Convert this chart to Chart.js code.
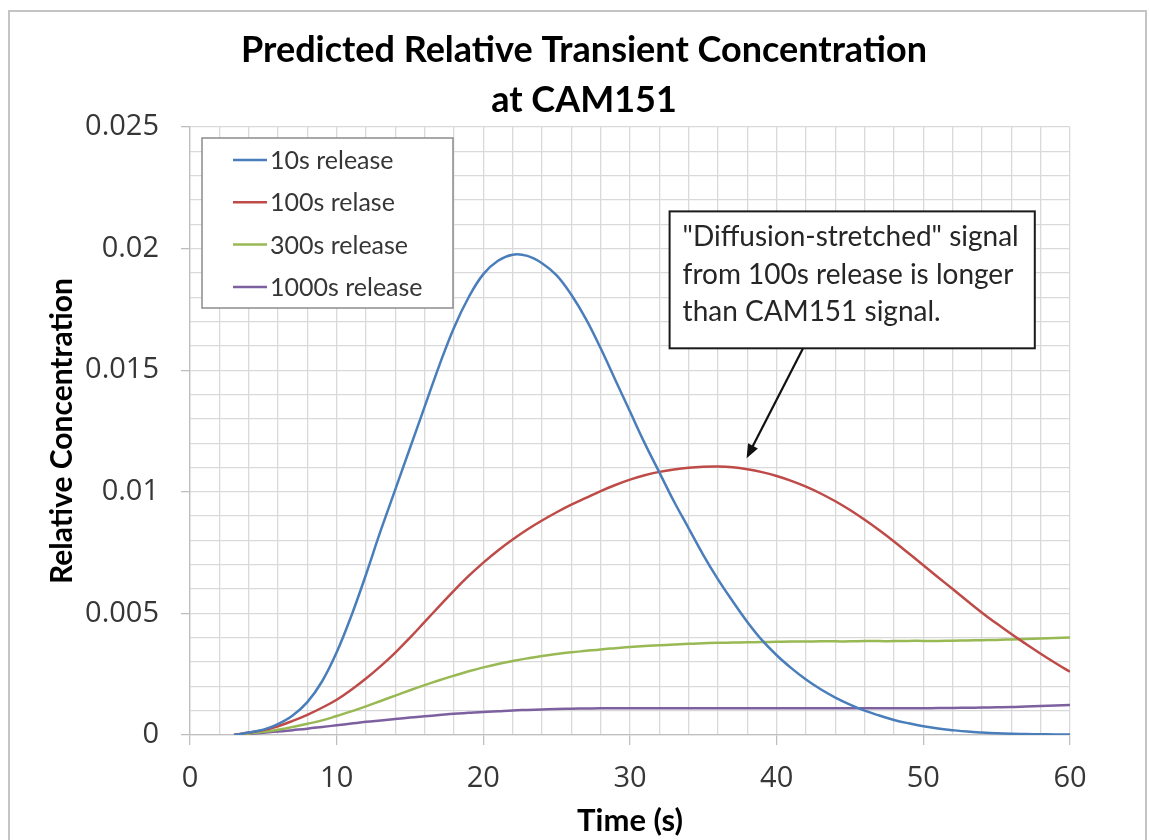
<!DOCTYPE html>
<html>
<head>
<meta charset="utf-8">
<script src="https://cdn.jsdelivr.net/npm/chart.js@4.4.1/dist/chart.umd.min.js"></script>
<style>
  html, body { margin: 0; padding: 0; background: #fff; }
  canvas { display: block; }
</style>
</head>
<body>
<canvas id="chart" width="1149" height="840"></canvas>
<script>
const titleLines = ["Predicted Relative Transient Concentration", "at CAM151"];
const seriesNames = ["10s release", "100s relase", "300s release", "1000s release"];
const seriesColors = ["#4a7ebb", "#be4b48", "#98b954", "#7d60a0"];

const times = [3, 4, 5, 6, 7, 8, 9, 10, 11, 12, 13, 14, 15, 16, 17, 18, 19, 20,
  21, 22, 23, 24, 25, 26, 27, 28, 29, 30, 31, 32, 33, 34, 35, 36, 37, 38, 39, 40,
  41, 42, 43, 44, 45, 46, 47, 48, 49, 50, 51, 52, 53, 54, 55, 56, 57, 58, 59, 60];

const release10 = [0, 0.0001, 0.00022, 0.00045, 0.0008, 0.00135, 0.0022, 0.0034, 0.0049, 0.0066,
  0.0084, 0.0101, 0.0118, 0.0135, 0.0152, 0.01675, 0.018, 0.01895, 0.0195, 0.01975,
  0.0197, 0.0194, 0.0189, 0.0181, 0.0171, 0.0159, 0.0146, 0.0133, 0.012, 0.0108,
  0.0096, 0.0085, 0.0074, 0.0064, 0.0055, 0.00465, 0.0039, 0.00328, 0.00275, 0.00228,
  0.00188, 0.00154, 0.00125, 0.001, 0.0008, 0.00062, 0.00048, 0.00036, 0.00027, 0.0002,
  0.00014, 0.0001, 0.00007, 0.00005, 0.00004, 0.00003, 0.00002, 0.00002];

const release100 = [0, 0.0001, 0.0002, 0.00036, 0.00058, 0.00083, 0.00112, 0.00145, 0.00186, 0.00232,
  0.00283, 0.00339, 0.004, 0.00465, 0.0053, 0.00594, 0.00654, 0.00709, 0.00759, 0.00804,
  0.00845, 0.00882, 0.00916, 0.00947, 0.00975, 0.01003, 0.01028, 0.0105, 0.01068, 0.01082,
  0.01092, 0.01099, 0.01103, 0.01104, 0.01101, 0.01093, 0.01081, 0.01065, 0.01045, 0.01021,
  0.00993, 0.00961, 0.00925, 0.00885, 0.00842, 0.00796, 0.00747, 0.00698, 0.00649, 0.006,
  0.00551, 0.00503, 0.00458, 0.00415, 0.00374, 0.00334, 0.00296, 0.0026];

const release300 = [0, 0.00006, 0.00013, 0.00022, 0.00033, 0.00046, 0.0006, 0.00078, 0.00097, 0.00118,
  0.0014, 0.00162, 0.00184, 0.00205, 0.00225, 0.00244, 0.00262, 0.00278, 0.00292, 0.00304,
  0.00315, 0.00325, 0.00333, 0.0034, 0.00346, 0.00352, 0.00357, 0.00362, 0.00366, 0.00369,
  0.00372, 0.00375, 0.00377, 0.00379, 0.0038, 0.00381, 0.00382, 0.00383, 0.00384, 0.00384,
  0.00385, 0.00385, 0.00385, 0.00386, 0.00386, 0.00386, 0.00387, 0.00387, 0.00387, 0.00388,
  0.00389, 0.0039, 0.00391, 0.00393, 0.00395, 0.00397, 0.00399, 0.00401];

const release1000 = [0, 0.00004, 0.00009, 0.00014, 0.0002, 0.00026, 0.00033, 0.0004, 0.00047, 0.00054,
  0.0006, 0.00066, 0.00072, 0.00077, 0.00082, 0.00087, 0.00091, 0.00095, 0.00098, 0.00101,
  0.00103, 0.00105, 0.00107, 0.00108, 0.00109, 0.0011, 0.0011, 0.0011, 0.0011, 0.0011,
  0.0011, 0.0011, 0.0011, 0.0011, 0.0011, 0.0011, 0.0011, 0.0011, 0.0011, 0.0011,
  0.0011, 0.0011, 0.0011, 0.0011, 0.0011, 0.0011, 0.0011, 0.0011, 0.00111, 0.00111,
  0.00112, 0.00113, 0.00114, 0.00115, 0.00117, 0.00119, 0.00121, 0.00123];

const xTickLabels = [0, 10, 20, 30, 40, 50, 60];
const yTickLabels = [0, 0.005, 0.01, 0.015, 0.02, 0.025];

const noteLines = ["\"Diffusion-stretched\" signal", "from 100s release is longer", "than CAM151 signal."];
// callout box corners and arrow, in data units
const noteBox = { x0: 32.7, y0: 0.02153, x1: 57.6, y1: 0.0159 };
const noteArrow = { x0: 41.8, y0: 0.0159, x1: 37.95, y1: 0.01138 };

const allSeries = [release10, release100, release300, release1000];

const datasets = allSeries.map((vals, i) => ({
  label: seriesNames[i],
  data: times.map((t, j) => ({ x: t, y: vals[j] })),
  borderColor: seriesColors[i],
  backgroundColor: seriesColors[i],
  borderWidth: 2.5,
  pointRadius: 0,
  tension: 0.4,
}));

const textColor = "#363636";
const gridColor = "#d9d9d9";

const frameAndNotes = {
  id: "frameAndNotes",
  beforeDraw(chart) {
    const ctx = chart.ctx;
    ctx.save();
    ctx.fillStyle = "#fff";
    ctx.fillRect(0, 0, chart.width, chart.height);
    ctx.strokeStyle = "#c4c4c4";
    ctx.lineWidth = 2;
    ctx.strokeRect(9, 11, 1137, 840);
    ctx.restore();
  },
  afterDraw(chart) {
    const ctx = chart.ctx;
    const area = chart.chartArea;
    const xs = chart.scales.x;
    const ys = chart.scales.y;
    ctx.save();

    // title
    ctx.fillStyle = "#000";
    ctx.textAlign = "center";
    ctx.textBaseline = "middle";
    ctx.font = "bold 36px Lato";
    ctx.fillText(titleLines[0], 584, 50);
    ctx.fillText(titleLines[1], 584, 100);

    // legend box
    const lx = area.left + 12, ly = area.top + 11;
    ctx.fillStyle = "#fff";
    ctx.fillRect(lx, ly, 251, 170);
    ctx.strokeStyle = "#8c8c8c";
    ctx.lineWidth = 1.5;
    ctx.strokeRect(lx, ly, 251, 170);
    ctx.font = "25px Lato";
    ctx.textAlign = "left";
    chart.data.datasets.forEach((ds, i) => {
      const y = ly + 22 + i * 42.3;
      ctx.strokeStyle = ds.borderColor;
      ctx.lineWidth = 2.5;
      ctx.beginPath();
      ctx.moveTo(lx + 31, y);
      ctx.lineTo(lx + 65, y);
      ctx.stroke();
      ctx.fillStyle = textColor;
      ctx.fillText(ds.label, lx + 68, y + 1);
    });

    // callout
    const bx0 = xs.getPixelForValue(noteBox.x0), by0 = ys.getPixelForValue(noteBox.y0);
    const bx1 = xs.getPixelForValue(noteBox.x1), by1 = ys.getPixelForValue(noteBox.y1);
    ctx.fillStyle = "#fff";
    ctx.fillRect(bx0, by0, bx1 - bx0, by1 - by0);
    ctx.strokeStyle = "#1a1a1a";
    ctx.lineWidth = 2;
    ctx.strokeRect(bx0, by0, bx1 - bx0, by1 - by0);
    ctx.fillStyle = "#262626";
    ctx.font = "28px Lato";
    noteLines.forEach((line, i) => {
      ctx.fillText(line, bx0 + 13, by0 + 26 + i * 37.5);
    });

    // arrow
    const ax0 = xs.getPixelForValue(noteArrow.x0), ay0 = ys.getPixelForValue(noteArrow.y0);
    const ax1 = xs.getPixelForValue(noteArrow.x1), ay1 = ys.getPixelForValue(noteArrow.y1);
    const ang = Math.atan2(ay1 - ay0, ax1 - ax0);
    const head = 15;
    ctx.strokeStyle = "#111";
    ctx.lineWidth = 2.2;
    ctx.beginPath();
    ctx.moveTo(ax0, ay0);
    ctx.lineTo(ax1 - Math.cos(ang) * head * 0.8, ay1 - Math.sin(ang) * head * 0.8);
    ctx.stroke();
    ctx.fillStyle = "#111";
    ctx.beginPath();
    ctx.moveTo(ax1, ay1);
    ctx.lineTo(ax1 - head * Math.cos(ang - 0.38), ay1 - head * Math.sin(ang - 0.38));
    ctx.lineTo(ax1 - head * Math.cos(ang + 0.38), ay1 - head * Math.sin(ang + 0.38));
    ctx.closePath();
    ctx.fill();

    ctx.restore();
  },
};

const config = {
  type: "line",
  data: { datasets: datasets },
  options: {
    responsive: false,
    animation: false,
    devicePixelRatio: 1,
    layout: { padding: { top: 127, right: 79, left: 0, bottom: 0 } },
    scales: {
      x: {
        type: "linear",
        min: 0,
        max: 60,
        afterFit: (scale) => { scale.height = 105; },
        afterBuildTicks: (scale) => {
          scale.ticks = [];
          for (let v = 0; v <= 60; v += 2) scale.ticks.push({ value: v });
        },
        ticks: {
          autoSkip: false,
          maxRotation: 0,
          padding: 16,
          color: textColor,
          font: { family: "Open Sans", size: 29 },
          callback: (value) => (xTickLabels.includes(value) ? String(value) : ""),
        },
        grid: {
          color: gridColor,
          lineWidth: 1.3,
          tickLength: 10,
          tickColor: (ctx) => (ctx.tick && ctx.tick.value % 10 === 0 ? "#bfbfbf" : "rgba(0,0,0,0)"),
        },
        border: { color: "#bfbfbf", width: 1.3 },
        title: {
          display: true,
          text: "Time (s)",
          color: "#000",
          font: { family: "Lato", weight: "bold", size: 31 },
          padding: { top: 0, bottom: 0 },
        },
      },
      y: {
        min: 0,
        max: 0.025,
        afterFit: (scale) => { scale.width = 190; },
        afterBuildTicks: (scale) => {
          scale.ticks = [];
          for (let k = 0; k <= 25; k++) scale.ticks.push({ value: k / 1000 });
        },
        ticks: {
          autoSkip: false,
          padding: 22,
          color: textColor,
          font: { family: "Open Sans", size: 29 },
          callback: (value) => {
            const hit = yTickLabels.find((t) => Math.abs(t - value) < 1e-9);
            return hit !== undefined ? String(hit) : "";
          },
        },
        grid: {
          color: gridColor,
          lineWidth: 1.3,
          tickLength: 9,
          tickColor: (ctx) => {
            if (!ctx.tick) return "rgba(0,0,0,0)";
            const k = Math.round(ctx.tick.value * 1000);
            return k % 5 === 0 ? "#bfbfbf" : "rgba(0,0,0,0)";
          },
        },
        border: { color: "#bfbfbf", width: 1.3 },
        title: {
          display: true,
          text: "Relative Concentration",
          color: "#000",
          font: { family: "Lato", weight: "bold", size: 30 },
          padding: { top: 44, bottom: 0 },
        },
      },
    },
    plugins: {
      legend: { display: false },
      tooltip: { enabled: false },
    },
  },
  plugins: [frameAndNotes],
};

const chart = new Chart(document.getElementById("chart"), config);
</script>
</body>
</html>
